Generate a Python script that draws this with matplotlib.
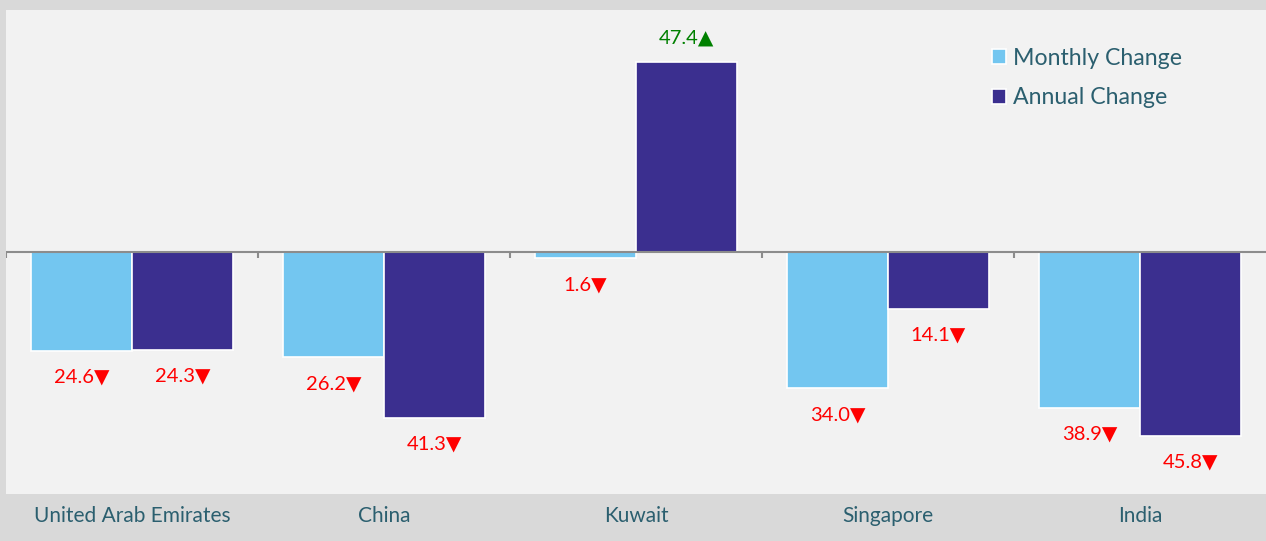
import numpy as np
import matplotlib
matplotlib.use('Agg')
from matplotlib import pyplot as plt

countries = ['United Arab Emirates', 'China', 'Kuwait', 'Singapore', 'India']
monthly = [-24.6, -26.2, -1.6, -34.0, -38.9]
annual = [-24.3, -41.3, 47.4, -14.1, -45.8]
series_names = ['Monthly Change', 'Annual Change']

c_month = '#73c6f0'
c_year = '#3b2f8f'
txt_col = '#2b5f6f'

plt.rcParams['font.family'] = ['Lato', 'DejaVu Sans']

fig = plt.figure(figsize=(12.66, 5.41), dpi=100, facecolor='#d9d9d9')
ax = fig.add_axes([6/1266, 47/541, 1 - 6/1266, 484/541])
ax.set_facecolor('#f2f2f2')

x = np.arange(len(countries))
w = 0.4
b1 = ax.bar(x - w/2, monthly, w, color=c_month, edgecolor='white', linewidth=1.2, label=series_names[0], zorder=3)
b2 = ax.bar(x + w/2, annual, w, color=c_year, edgecolor='white', linewidth=1.2, label=series_names[1], zorder=3)

ax.set_xlim(-0.5, len(countries) - 0.5)
ax.set_ylim(-60.3, 60.3)

# zero line + small ticks between the groups
ax.axhline(0, color='#8c8c8c', lw=1.5, zorder=4)
ax.vlines(np.arange(len(countries)) - 0.5, -1.5, 0, color='#8c8c8c', lw=1.5, zorder=4)

for bars, vals in [(b1, monthly), (b2, annual)]:
    for b, v in zip(bars, vals):
        cx = b.get_x() + b.get_width()/2
        if v < 0:
            ax.annotate(f'{abs(v):.1f}\u25bc', (cx, v), xytext=(0, -19), textcoords='offset points',
                        ha='center', va='center', color='#ff0000', fontsize=14.5)
        else:
            ax.annotate(f'{v:.1f}\u25b2', (cx, v), xytext=(0, 17), textcoords='offset points',
                        ha='center', va='center', color='#008000', fontsize=14.5)

for s in ax.spines.values():
    s.set_visible(False)
ax.set_yticks([])
ax.set_xticks(x)
ax.set_xticklabels(countries, fontsize=15, color=txt_col)
ax.tick_params(axis='x', length=0, pad=9)

ax.legend(loc='upper right', bbox_to_anchor=(0.950, 0.965), frameon=False, fontsize=16.7,
          handlelength=0.6, handleheight=0.6, handletextpad=0.3, labelspacing=0.8,
          labelcolor=txt_col)

fig.savefig('out.png', dpi=100, facecolor=fig.get_facecolor())
